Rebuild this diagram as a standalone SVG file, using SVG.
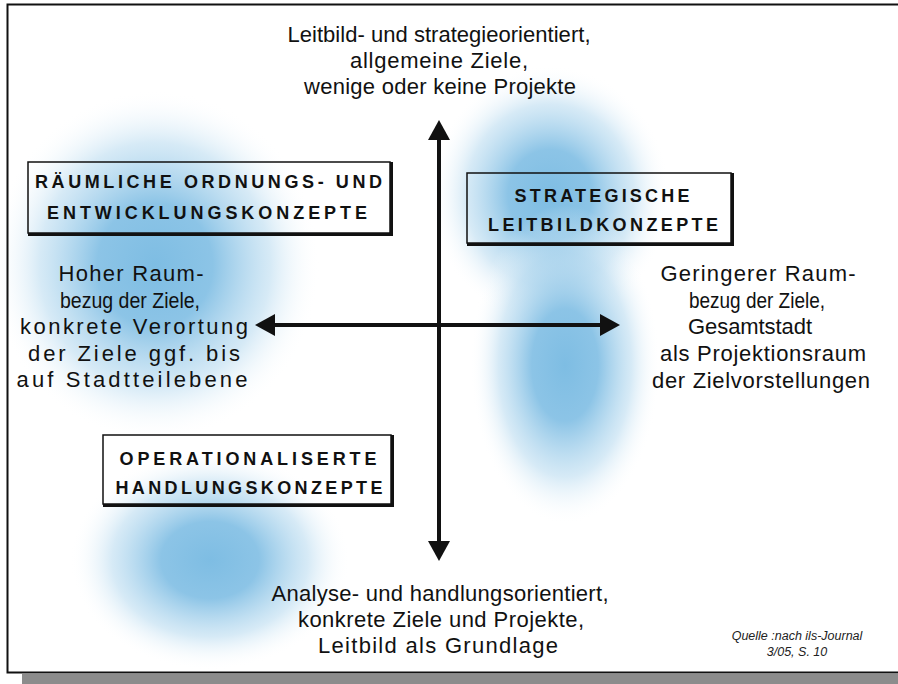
<svg xmlns="http://www.w3.org/2000/svg" width="898" height="684" viewBox="0 0 898 684">
<defs>
<style>
.t{font-family:"Liberation Sans",Arial,sans-serif;font-size:22px;fill:#111;text-anchor:middle}
.b{font-family:"Liberation Sans",Arial,sans-serif;font-size:18px;font-weight:bold;fill:#111;text-anchor:middle}
.s{font-family:"Liberation Sans",Arial,sans-serif;font-size:12.5px;font-style:italic;fill:#222;text-anchor:middle}
.box{fill:none;stroke:#111;stroke-width:1.5}
.sh{fill:none;stroke:#111;stroke-width:3}
.ax{stroke:#111;stroke-width:4;fill:none}
</style>
<radialGradient id="blob">
<stop offset="0" stop-color="#7ebde3"/>
<stop offset="0.35" stop-color="#86c1e5" stop-opacity="0.95"/>
<stop offset="0.7" stop-color="#b5d9ef" stop-opacity="0.55"/>
<stop offset="1" stop-color="#ffffff" stop-opacity="0"/>
</radialGradient>
<marker id="ah" viewBox="0 0 20 22" refX="2" refY="11" markerWidth="20" markerHeight="22" markerUnits="userSpaceOnUse" orient="auto-start-reverse">
<path d="M0,0 L20,11 L0,22 Z" fill="#111"/>
</marker>
</defs>
<rect width="898" height="684" fill="#ffffff"/>
<g id="background-blobs">
<ellipse cx="155" cy="265" rx="165" ry="175" fill="url(#blob)"/>
<ellipse cx="550" cy="195" rx="120" ry="130" fill="url(#blob)"/>
<ellipse cx="565" cy="365" rx="95" ry="160" fill="url(#blob)"/>
<ellipse cx="210" cy="560" rx="140" ry="110" fill="url(#blob)"/>
</g>
<g id="frame">
<rect x="22" y="674" width="876" height="10" fill="#8c8c8c"/>
<path d="M898,4.5 H7.5 V672.5 H898" fill="none" stroke="#111" stroke-width="2"/>
</g>
<g id="connectors">
<line class="ax" x1="439" y1="138" x2="439" y2="543" marker-start="url(#ah)" marker-end="url(#ah)"/>
<line class="ax" x1="273" y1="325" x2="602" y2="325" marker-start="url(#ah)" marker-end="url(#ah)"/>
</g>
<g id="node-raeumliche">
<rect class="box" x="28" y="162" width="362" height="71"/>
<path class="sh" d="M391.5,162 V234.5 H28"/>
<text class="b" x="208.5" y="188" textLength="347" lengthAdjust="spacing">RÄUMLICHE ORDNUNGS- UND</text>
<text class="b" x="207" y="219" textLength="320" lengthAdjust="spacing">ENTWICKLUNGSKONZEPTE</text>
</g>
<g id="node-strategische">
<rect class="box" x="467" y="173" width="264" height="70"/>
<path class="sh" d="M732.5,173 V244.5 H467"/>
<text class="b" x="602" y="202" textLength="175" lengthAdjust="spacing">STRATEGISCHE</text>
<text class="b" x="603" y="231" textLength="230" lengthAdjust="spacing">LEITBILDKONZEPTE</text>
</g>
<g id="node-operationalisierte">
<rect class="box" x="103" y="435" width="288" height="69"/>
<path class="sh" d="M392.5,435 V505.5 H103"/>
<text class="b" x="248" y="465" textLength="257" lengthAdjust="spacing">OPERATIONALISERTE</text>
<text class="b" x="249" y="494" textLength="267" lengthAdjust="spacing">HANDLUNGSKONZEPTE</text>
</g>
<g id="label-top">
<text class="t" x="439" y="42" textLength="303" lengthAdjust="spacing">Leitbild- und strategieorientiert,</text>
<text class="t" x="439" y="68" textLength="178" lengthAdjust="spacing">allgemeine Ziele,</text>
<text class="t" x="440" y="94" textLength="272" lengthAdjust="spacing">wenige oder keine Projekte</text>
</g>
<g id="label-left">
<text class="t" x="131" y="281" textLength="145" lengthAdjust="spacing">Hoher Raum-</text>
<text class="t" x="130" y="308" textLength="140" lengthAdjust="spacingAndGlyphs">bezug der Ziele,</text>
<text class="t" x="134" y="334" textLength="228" lengthAdjust="spacing">konkrete Verortung</text>
<text class="t" x="134" y="361" textLength="212" lengthAdjust="spacing">der Ziele ggf. bis</text>
<text class="t" x="132" y="387" textLength="231" lengthAdjust="spacing">auf Stadtteilebene</text>
</g>
<g id="label-right">
<text class="t" x="758" y="281" textLength="195" lengthAdjust="spacing">Geringerer Raum-</text>
<text class="t" x="757" y="308" textLength="136" lengthAdjust="spacingAndGlyphs">bezug der Ziele,</text>
<text class="t" x="750" y="334" textLength="124" lengthAdjust="spacing">Gesamtstadt</text>
<text class="t" x="763" y="361" textLength="206" lengthAdjust="spacing">als Projektionsraum</text>
<text class="t" x="761" y="388" textLength="218" lengthAdjust="spacing">der Zielvorstellungen</text>
</g>
<g id="label-bottom">
<text class="t" x="440" y="601" textLength="337" lengthAdjust="spacing">Analyse- und handlungsorientiert,</text>
<text class="t" x="441" y="627" textLength="286" lengthAdjust="spacing">konkrete Ziele und Projekte,</text>
<text class="t" x="438" y="653" textLength="240" lengthAdjust="spacing">Leitbild als Grundlage</text>
</g>
<g id="source">
<text class="s" x="797" y="640">Quelle :nach ils-Journal</text>
<text class="s" x="797" y="656">3/05, S. 10</text>
</g>
</svg>
